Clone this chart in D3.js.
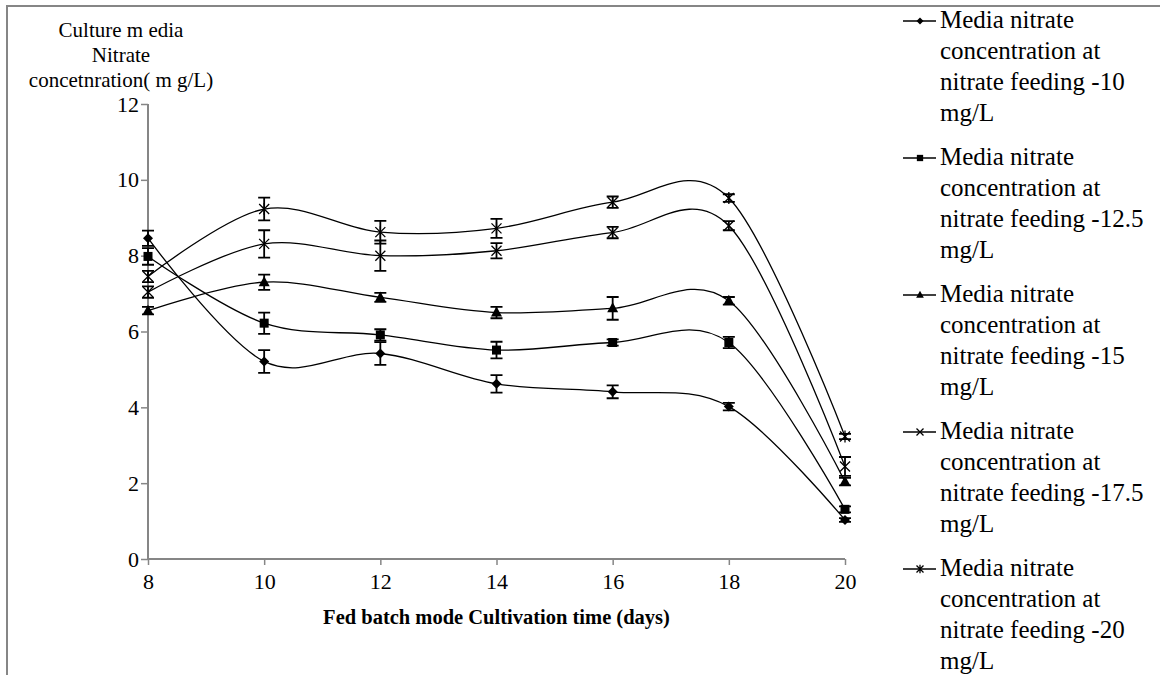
<!DOCTYPE html>
<html>
<head>
<meta charset="utf-8">
<script src="https://cdn.jsdelivr.net/npm/d3@7"></script>
<style>
  html, body { margin: 0; padding: 0; background: #fff; }
  svg { display: block; }
  text { font-family: "Liberation Serif", "Times New Roman", serif; fill: #000; }
</style>
</head>
<body>
<svg id="chart" width="1160" height="675"></svg>
<script>
const days = [8, 10, 12, 14, 16, 18, 20];
const xTicks = [8, 10, 12, 14, 16, 18, 20];
const yTicks = [0, 2, 4, 6, 8, 10, 12];

const seriesNames = [
  "Media nitrate concentration at nitrate feeding -10 mg/L",
  "Media nitrate concentration at nitrate feeding -12.5 mg/L",
  "Media nitrate concentration at nitrate feeding -15 mg/L",
  "Media nitrate concentration at nitrate feeding -17.5 mg/L",
  "Media nitrate concentration at nitrate feeding -20 mg/L"
];
const legendLines = [
  ["Media nitrate", "concentration at", "nitrate feeding -10", "mg/L"],
  ["Media nitrate", "concentration at", "nitrate feeding -12.5", "mg/L"],
  ["Media nitrate", "concentration at", "nitrate feeding -15", "mg/L"],
  ["Media nitrate", "concentration at", "nitrate feeding -17.5", "mg/L"],
  ["Media nitrate", "concentration at", "nitrate feeding -20", "mg/L"]
];
const markers = ["diamond", "square", "triangle", "cross", "asterisk"];

const feed10   = [8.46, 5.21, 5.42, 4.62, 4.41, 4.02, 1.03];
const feed12_5 = [7.98, 6.22, 5.91, 5.51, 5.71, 5.71, 1.31];
const feed15   = [6.55, 7.30, 6.90, 6.50, 6.61, 6.81, 2.04];
const feed17_5 = [7.04, 8.31, 8.00, 8.13, 8.61, 8.79, 2.44];
const feed20   = [7.45, 9.23, 8.62, 8.72, 9.41, 9.52, 3.23];

const err10   = [0.20, 0.30, 0.30, 0.23, 0.17, 0.10, 0.05];
const err12_5 = [0.22, 0.28, 0.15, 0.22, 0.08, 0.15, 0.08];
const err15   = [0.10, 0.20, 0.12, 0.15, 0.30, 0.10, 0.10];
const err17_5 = [0.15, 0.36, 0.40, 0.20, 0.15, 0.12, 0.25];
const err20   = [0.15, 0.30, 0.30, 0.25, 0.15, 0.10, 0.07];

const values = [feed10, feed12_5, feed15, feed17_5, feed20];
const errors = [err10, err12_5, err15, err17_5, err20];

const xTitle = "Fed batch mode Cultivation time (days)";
const yTitleLines = ["Culture m edia", "Nitrate", "concetnration( m g/L)"];

const svg = d3.select("#chart");
const gray = "#868686";

// outer border (partially visible)
svg.append("path")
  .attr("d", "M7,675 L7,6 L1160,6")
  .attr("fill", "none").attr("stroke", gray).attr("stroke-width", 2);

const x = d3.scaleLinear().domain([8, 20]).range([148, 845]);
const y = d3.scaleLinear().domain([0, 12]).range([559, 104]);

// axes
const yAxis = svg.append("g").attr("transform", "translate(148,0)")
  .call(d3.axisLeft(y).tickValues(yTicks).tickSize(7).tickPadding(2).tickFormat(d3.format("d")));
yAxis.attr("font-family", "Liberation Serif").attr("font-size", 22);
yAxis.select(".domain").attr("stroke", gray).attr("stroke-width", 2).attr("d", "M0," + y(12) + "V" + y(0));
yAxis.selectAll(".tick line").attr("stroke", gray).attr("stroke-width", 1.5);
yAxis.selectAll(".tick text").attr("fill", "#000");

const xAxis = svg.append("g").attr("transform", "translate(0,559)")
  .call(d3.axisBottom(x).tickValues(xTicks).tickSize(6).tickPadding(8).tickFormat(d3.format("d")));
xAxis.attr("font-family", "Liberation Serif").attr("font-size", 22);
xAxis.select(".domain").attr("stroke", gray).attr("stroke-width", 2).attr("d", "M" + x(8) + ",0H" + x(20));
xAxis.selectAll(".tick line").attr("stroke", gray).attr("stroke-width", 1.5);
xAxis.selectAll(".tick text").attr("fill", "#000");

// titles
svg.append("text").attr("x", (x(8) + x(20)) / 2).attr("y", 624)
  .attr("text-anchor", "middle").style("font-size", "20.5px").style("font-weight", "bold")
  .text(xTitle);
const yt = svg.append("text").attr("text-anchor", "middle").style("font-size", "21px");
yTitleLines.forEach((t, i) => {
  yt.append("tspan").attr("x", 121).attr("y", 37 + i * 25).text(t);
});

// marker drawing
function drawMarker(g, type, cx, cy, s) {
  const k = s || 1;
  if (type === "diamond") {
    g.append("path").attr("d", `M${cx},${cy - 5 * k}L${cx + 5 * k},${cy}L${cx},${cy + 5 * k}L${cx - 5 * k},${cy}Z`).attr("fill", "#000");
  } else if (type === "square") {
    g.append("rect").attr("x", cx - 4.5 * k).attr("y", cy - 4.5 * k).attr("width", 9 * k).attr("height", 9 * k).attr("fill", "#000");
  } else if (type === "triangle") {
    g.append("path").attr("d", `M${cx},${cy - 6 * k}L${cx + 5.5 * k},${cy + 4 * k}L${cx - 5.5 * k},${cy + 4 * k}Z`).attr("fill", "#000");
  } else if (type === "cross") {
    g.append("path").attr("d", `M${cx - 5 * k},${cy - 5 * k}L${cx + 5 * k},${cy + 5 * k}M${cx + 5 * k},${cy - 5 * k}L${cx - 5 * k},${cy + 5 * k}`).attr("stroke", "#000").attr("stroke-width", 1.3);
  } else if (type === "asterisk") {
    g.append("path").attr("d", `M${cx - 5 * k},${cy - 5 * k}L${cx + 5 * k},${cy + 5 * k}M${cx + 5 * k},${cy - 5 * k}L${cx - 5 * k},${cy + 5 * k}M${cx},${cy - 6 * k}L${cx},${cy + 6 * k}`).attr("stroke", "#000").attr("stroke-width", 1.3);
  }
}

const line = d3.line().x((d, i) => x(days[i])).y(d => y(d)).curve(d3.curveCardinal.tension(0));
const plot = svg.append("g");

values.forEach((vals, si) => {
  plot.append("path").datum(vals).attr("d", line)
    .attr("fill", "none").attr("stroke", "#000").attr("stroke-width", 1.3);
});
values.forEach((vals, si) => {
  const g = plot.append("g");
  vals.forEach((v, i) => {
    const cx = x(days[i]);
    const e = errors[si][i];
    const y1 = y(v + e), y2 = y(v - e);
    g.append("path")
      .attr("d", `M${cx},${y1}V${y2}M${cx - 6},${y1}H${cx + 6}M${cx - 6},${y2}H${cx + 6}`)
      .attr("stroke", "#000").attr("stroke-width", 1.8).attr("fill", "none");
    drawMarker(g, markers[si], cx, y(v), 1);
  });
});

// legend
const legend = svg.append("g");
const legendTop = [21, 158, 295, 432, 569];
legendLines.forEach((lines, si) => {
  const ly = legendTop[si];
  const g = legend.append("g");
  g.append("line").attr("x1", 903).attr("x2", 936).attr("y1", ly).attr("y2", ly)
    .attr("stroke", "#000").attr("stroke-width", 1.3);
  drawMarker(g, markers[si], 920, ly, 0.7);
  const t = g.append("text").style("font-size", "25px");
  lines.forEach((s, i) => {
    t.append("tspan").attr("x", 940).attr("y", ly + 7 + i * 31).text(s);
  });
});
</script>
</body>
</html>
